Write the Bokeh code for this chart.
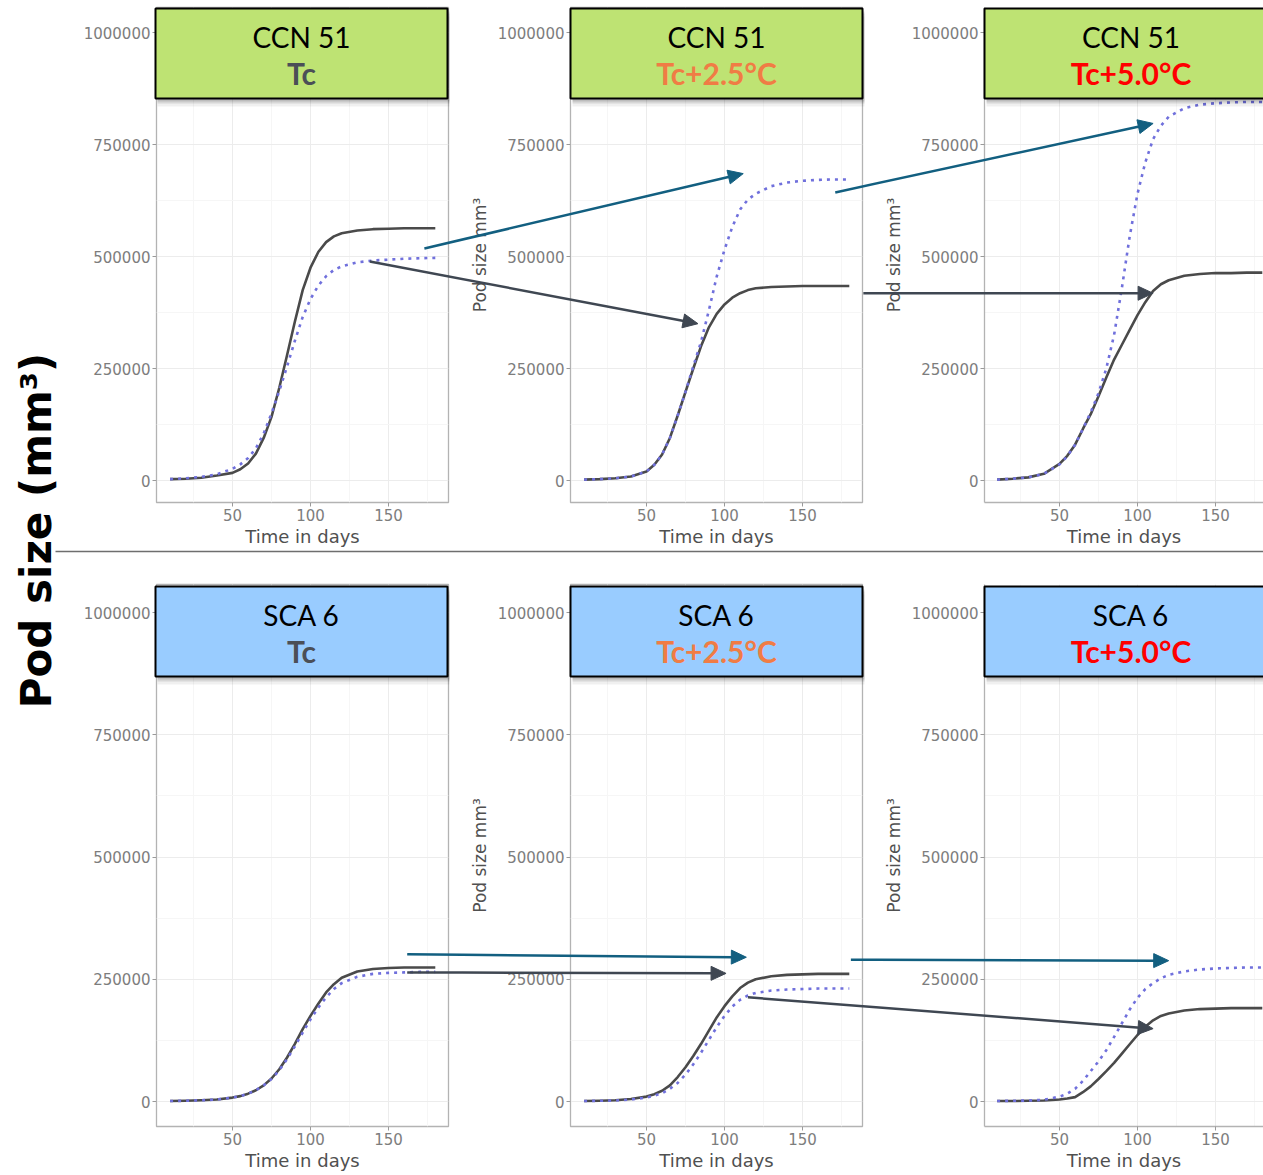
import math
from bokeh.plotting import figure
from bokeh.models import Range1d, FixedTicker, Label, BasicTickFormatter
from bokeh.core.properties import value
from bokeh.layouts import row, column
from bokeh.embed import file_html
from bokeh.resources import INLINE

# ------------------------------------------------------------------ data
DAYS = [10, 20, 30, 40, 50, 55, 60, 65, 70, 75, 80, 85, 90, 95, 100,
        105, 110, 115, 120, 130, 140, 150, 160, 170, 180]

CCN51_TC_SOLID = [3000, 4000, 6000, 11000, 17000, 25000, 38000, 60000, 95000, 142000,
                  207000, 280000, 355000, 425000, 475000, 510000, 532000, 545000, 552000,
                  558000, 561000, 562000, 563000, 563000, 563000]
CCN51_TC_DOTTED = [3000, 5000, 8000, 14000, 26000, 36000, 50000, 72000, 105000, 150000,
                   200000, 255000, 312000, 365000, 405000, 435000, 456000, 470000, 478000,
                   487000, 491000, 493000, 495000, 496000, 497000]
CCN51_T25_SOLID = [2000, 3000, 5000, 9000, 20000, 35000, 58000, 95000, 145000, 198000,
                   250000, 300000, 342000, 372000, 393000, 408000, 418000, 425000, 429000,
                   432000, 433000, 434000, 434000, 434000, 434000]
CCN51_T25_DOTTED = [2000, 3000, 5000, 9000, 20000, 35000, 58000, 95000, 145000, 198000,
                    255000, 310000, 380000, 455000, 515000, 566000, 605000, 627000, 640000,
                    657000, 665000, 669000, 671000, 672000, 672000]
CCN51_T50_SOLID = [2000, 4000, 7000, 15000, 37000, 55000, 80000, 115000, 148000, 188000,
                   230000, 270000, 303000, 336000, 369000, 398000, 423000, 438000, 447000,
                   457000, 461000, 463000, 463000, 464000, 464000]
CCN51_T50_DOTTED = [2000, 4000, 7000, 15000, 36000, 54000, 80000, 115000, 152000, 195000,
                    250000, 325000, 430000, 545000, 640000, 710000, 762000, 792000, 812000,
                    831000, 839000, 842000, 844000, 845000, 845000]

SCA6_TC_SOLID = [1000, 1500, 2500, 4000, 8000, 11000, 16000, 23000, 33000, 47000,
                 66000, 90000, 118000, 148000, 175000, 200000, 223000, 240000, 253000,
                 266000, 271000, 273000, 274000, 274000, 274000]
SCA6_TC_DOTTED = [1000, 1500, 2500, 4000, 8000, 11000, 16000, 23000, 33000, 46000,
                  64000, 87000, 113000, 141000, 168000, 192000, 213000, 230000, 242000,
                  255000, 261000, 263000, 264000, 265000, 265000]
SCA6_T25_SOLID = [1000, 1500, 2500, 5000, 10000, 15000, 22000, 33000, 50000, 70000,
                  93000, 118000, 145000, 172000, 195000, 215000, 232000, 243000, 250000,
                  256000, 259000, 260000, 261000, 261000, 261000]
SCA6_T25_DOTTED = [1000, 1500, 2000, 4000, 8000, 12000, 17000, 26000, 38000, 55000,
                   76000, 100000, 126000, 152000, 175000, 194000, 208000, 217000, 222000,
                   227000, 229000, 230000, 231000, 231000, 231000]
SCA6_T50_SOLID = [1000, 1000, 1500, 2000, 4000, 6000, 9000, 19000, 31000, 46000,
                  62000, 79000, 98000, 117000, 136000, 153000, 166000, 175000, 180000,
                  186000, 189000, 190000, 191000, 191000, 191000]
SCA6_T50_DOTTED = [1000, 1500, 2000, 3500, 10000, 16000, 26000, 42000, 62000, 82000,
                   105000, 132000, 160000, 188000, 212000, 230000, 242000, 252000, 259000,
                   266000, 270000, 272000, 273000, 274000, 274000]

CULTIVARS = ["CCN 51", "SCA 6"]
TREATMENTS = ["Tc", "Tc+2.5°C", "Tc+5.0°C"]

Y_TICKS = [0, 250000, 500000, 750000, 1000000]
Y_TICK_LABELS = ["0", "250000", "500000", "750000", "1000000"]
Y_MINOR_TICKS = [125000, 375000, 625000, 875000]
X_TICKS = [50, 100, 150]
X_TICK_LABELS = ["50", "100", "150"]
X_MINOR_TICKS = [25, 75, 125, 175]
X_TITLE = "Time in days"
Y_TITLE = "Pod size mm³"
BIG_TITLE = "Pod size (mm³)"

# arrows: (row, from_col, from_day, from_value, to_col, to_day, to_value, kind)
ARROWS = [
    (0, 0, 173, 518000, 1, 112, 685000, "teal"),
    (0, 0, 138, 489000, 1, 83, 350000, "gray"),
    (0, 1, 171, 643000, 2, 110, 797000, "teal"),
    (0, 1, 189, 418000, 2, 110, 418000, "gray"),
    (1, 0, 162, 301000, 1, 114, 295000, "teal"),
    (1, 0, 162, 264000, 1, 101, 262000, "gray"),
    (1, 1, 181, 290000, 2, 120, 288000, "teal"),
    (1, 1, 115, 213000, 2, 110, 149000, "gray"),
]

SOLID = [[CCN51_TC_SOLID, CCN51_T25_SOLID, CCN51_T50_SOLID],
         [SCA6_TC_SOLID, SCA6_T25_SOLID, SCA6_T50_SOLID]]
DOTTED = [[CCN51_TC_DOTTED, CCN51_T25_DOTTED, CCN51_T50_DOTTED],
          [SCA6_TC_DOTTED, SCA6_T25_DOTTED, SCA6_T50_DOTTED]]

# ------------------------------------------------------------------ styles
HEADER_FILL = ["#BEE373", "#99CCFF"]
TREAT_COLORS = ["#4B4F57", "#F07C45", "#FF0000"]
ARROW_COLORS = {"teal": "#125F80", "gray": "#3F4752"}
SOLID_COLOR = "#4A4A4A"
DOT_COLOR = "#7070DC"
GRID_MAJOR = "#ECECEC"
GRID_MINOR = "#F6F6F6"
BORDER = "#B3B3B3"
TICK_TEXT = "#7D7D7D"
TITLE_TEXT = "#505050"
SEP_COLOR = "#6E6E6E"

# ------------------------------------------------------------------ layout (page pixels)
PAGE_W, PAGE_H = 1263, 1175
LABEL_COL = (0, 68)
COL_CANVAS = [(68, 462), (462, 876), (876, 1263)]
COL_FRAME = [(156, 448), (570, 862), (984, 1263)]
COL_X50 = [232, 646, 1059]          # page x of day 50
PX_PER_DAY = 1.56
ROW_CANVAS = [(0, 550), (550, 1175)]
ROW_FRAME = [(7, 502), (584, 1126)]
ROW_Y0 = [480, 1101]                 # page y of value 0
ROW_PX_PER_UNIT = [448e-6, 489e-6]
HEADER_BOX_Y = [(8, 98), (586, 676)]
HEADER_BOX_X = [(155, 447), (570, 862), (984, 1280)]
HEADER_LINE_Y = [(36, 72), (614, 650)]
SEPARATOR_Y = 551
SEPARATOR_X0 = 55
BIG_TITLE_XY = (36, 530)
HEAD_LEN, HEAD_HALF_W = 15, 7


def x_range_for(c):
    fx0, fx1 = COL_FRAME[c]
    return (50 + (fx0 - COL_X50[c]) / PX_PER_DAY, 50 + (fx1 - COL_X50[c]) / PX_PER_DAY)


def y_range_for(r):
    fy0, fy1 = ROW_FRAME[r]
    return (-(fy1 - ROW_Y0[r]) / ROW_PX_PER_UNIT[r], (ROW_Y0[r] - fy0) / ROW_PX_PER_UNIT[r])


def page_to_data(r, c, X, Y):
    x = 50 + (X - COL_X50[c]) / PX_PER_DAY
    y = (ROW_Y0[r] - Y) / ROW_PX_PER_UNIT[r]
    return x, y


def data_to_page(r, c, x, y):
    return COL_X50[c] + (x - 50) * PX_PER_DAY, ROW_Y0[r] - y * ROW_PX_PER_UNIT[r]


def make_panel(r, c):
    cx0, cx1 = COL_CANVAS[c]
    cy0, cy1 = ROW_CANVAS[r]
    fx0, fx1 = COL_FRAME[c]
    fy0, fy1 = ROW_FRAME[r]
    p = figure(width=cx1 - cx0, height=cy1 - cy0,
               x_range=Range1d(*x_range_for(c)), y_range=Range1d(*y_range_for(r)),
               min_border_left=fx0 - cx0, min_border_right=cx1 - fx1,
               min_border_top=fy0 - cy0, min_border_bottom=cy1 - fy1,
               output_backend="svg", toolbar_location=None,
               background_fill_color="white", border_fill_color="white")
    xt = FixedTicker(ticks=X_TICKS, minor_ticks=X_MINOR_TICKS)
    yt = FixedTicker(ticks=Y_TICKS, minor_ticks=Y_MINOR_TICKS)
    p.xaxis.ticker = xt
    p.yaxis.ticker = yt
    p.xgrid.ticker = xt
    p.ygrid.ticker = yt
    p.yaxis.formatter = BasicTickFormatter(use_scientific=False)
    p.xaxis.major_label_overrides = dict(zip(X_TICKS, X_TICK_LABELS))
    p.yaxis.major_label_overrides = dict(zip(Y_TICKS, Y_TICK_LABELS))
    p.xaxis.axis_label = X_TITLE
    if c > 0:
        p.yaxis.axis_label = Y_TITLE
    for ax in list(p.xaxis) + list(p.yaxis):
        ax.axis_line_color = BORDER if c == 2 else None
        ax.axis_line_width = 1.3
        ax.major_tick_line_color = "#9A9A9A"
        ax.major_tick_out = 4
        ax.major_tick_in = 0
        ax.minor_tick_line_color = None
        ax.major_label_text_font = "DejaVu Sans"
        ax.major_label_text_font_size = "15px"
        ax.major_label_text_color = TICK_TEXT
        ax.major_label_standoff = 2
        ax.axis_label_text_font = "DejaVu Sans"
        ax.axis_label_text_font_size = "18px"
        ax.axis_label_text_font_style = "normal"
        ax.axis_label_text_color = TITLE_TEXT
        ax.axis_label_standoff = 2
    p.yaxis.axis_label_text_font_size = "17px"
    p.yaxis.axis_label_standoff = 5
    for g in list(p.xgrid) + list(p.ygrid):
        g.grid_line_color = GRID_MAJOR
        g.grid_line_width = 1
        g.minor_grid_line_color = GRID_MINOR
        g.minor_grid_line_width = 1
    p.outline_line_color = None if c == 2 else BORDER
    p.outline_line_width = 1.3

    # curves (data)
    p.line(DAYS, SOLID[r][c], line_color=SOLID_COLOR, line_width=2.6, line_join="round")
    p.line(DAYS, DOTTED[r][c], line_color=DOT_COLOR, line_width=2.6, line_dash="3 5")

    # header box with a soft shadow (drawn on the overlay level, above the curves)
    bx0, bx1 = HEADER_BOX_X[c]
    by0, by1 = HEADER_BOX_Y[r]
    for off, alpha in ((8, 0.06), (5, 0.10), (3, 0.12)):
        l, t = page_to_data(r, c, bx0 + 2, by0 + off)
        rr, b = page_to_data(r, c, bx1 + 2, by1 + off)
        p.quad(left=[l], right=[rr], top=[t], bottom=[b], fill_color="black",
               fill_alpha=alpha, line_color=None, level="overlay")
    l, t = page_to_data(r, c, bx0, by0)
    rr, b = page_to_data(r, c, bx1, by1)
    p.quad(left=[l], right=[rr], top=[t], bottom=[b], fill_color=HEADER_FILL[r],
           line_color="black", line_width=2, level="overlay")
    xc_page = (bx0 + bx1) / 2.0 if c < 2 else 1130.5
    ly1, ly2 = HEADER_LINE_Y[r]
    x1, y1 = page_to_data(r, c, xc_page, ly1)
    x2, y2 = page_to_data(r, c, xc_page, ly2)
    p.text(x=[x1], y=[y1], text=[CULTIVARS[r]], text_align="center", text_baseline="middle",
           text_font=value("Lato"), text_font_size="28px", text_color="black", level="overlay")
    p.text(x=[x2], y=[y2], text=[TREATMENTS[c]], text_align="center", text_baseline="middle",
           text_font=value("Lato"), text_font_style="bold", text_font_size="30px",
           text_color=TREAT_COLORS[c], level="overlay")

    # separator line between the two rows
    if r == 1:
        sx0, sy = page_to_data(r, c, cx0 - 2, SEPARATOR_Y)
        sx1, _ = page_to_data(r, c, cx1 + 2, SEPARATOR_Y)
        p.line([sx0, sx1], [sy, sy], line_color=SEP_COLOR, line_width=1.5, level="overlay")

    # arrows crossing panels
    for (ar, fc, fd, fv, tc, td, tv, kind) in ARROWS:
        if ar != r or c not in (fc, tc):
            continue
        Xs, Ys = data_to_page(ar, fc, fd, fv)
        Xe, Ye = data_to_page(ar, tc, td, tv)
        L = math.hypot(Xe - Xs, Ye - Ys)
        ux, uy = (Xe - Xs) / L, (Ye - Ys) / L
        Bx, By = Xe - HEAD_LEN * ux, Ye - HEAD_LEN * uy
        col = ARROW_COLORS[kind]
        xs, ys = page_to_data(r, c, Xs, Ys)
        xb, yb = page_to_data(r, c, Bx + 2 * ux, By + 2 * uy)
        p.segment(x0=[xs], y0=[ys], x1=[xb], y1=[yb], line_color=col, line_width=2.5,
                  level="overlay")
        if c == tc:
            nx, ny = -uy, ux
            pts = [(Xe, Ye), (Bx + HEAD_HALF_W * nx, By + HEAD_HALF_W * ny),
                   (Bx - HEAD_HALF_W * nx, By - HEAD_HALF_W * ny)]
            dpts = [page_to_data(r, c, X, Y) for X, Y in pts]
            p.patch([d[0] for d in dpts], [d[1] for d in dpts], fill_color=col,
                    line_color=col, line_width=1, level="overlay")
    return p


# big shared y label on the left
lw = LABEL_COL[1] - LABEL_COL[0]
lp = figure(width=lw, height=PAGE_H, x_range=Range1d(0, lw), y_range=Range1d(0, PAGE_H),
            min_border=0, min_border_left=0, min_border_right=0, min_border_top=0,
            min_border_bottom=0, x_axis_location=None, y_axis_location=None,
            output_backend="svg", toolbar_location=None, border_fill_color="white")
lp.grid.visible = False
lp.outline_line_color = None
lp.add_layout(Label(x=BIG_TITLE_XY[0], y=PAGE_H - BIG_TITLE_XY[1], text=BIG_TITLE,
                    angle=math.pi / 2, text_align="center", text_baseline="middle",
                    text_font="DejaVu Sans", text_font_style="bold", text_font_size="42px",
                    text_color="black"))
lp.line([SEPARATOR_X0, lw], [PAGE_H - SEPARATOR_Y] * 2, line_color=SEP_COLOR, line_width=1.5)

panels = [[make_panel(r, c) for c in range(3)] for r in range(2)]
layout = row(lp, column(row(*panels[0]), row(*panels[1])))

open("out.html", "w").write(file_html(layout, INLINE, title="Pod size"))
